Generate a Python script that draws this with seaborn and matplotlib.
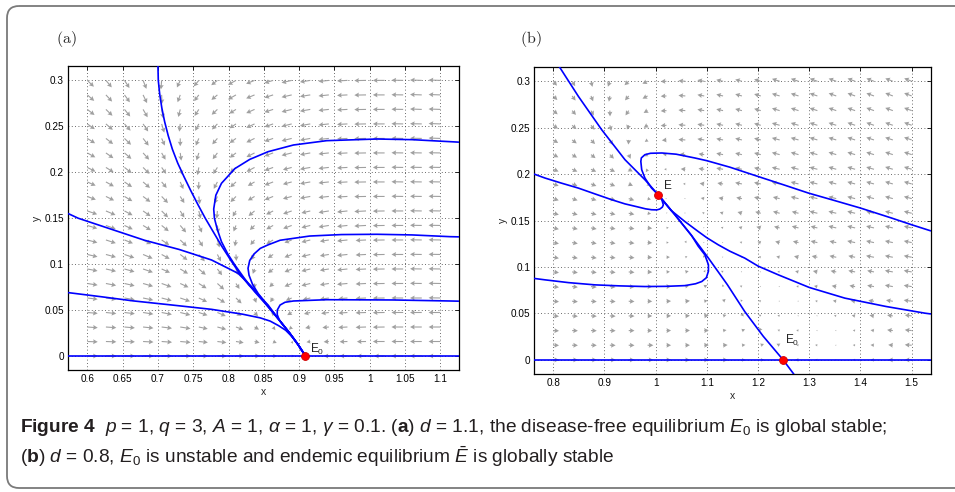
import numpy as np
import matplotlib
matplotlib.use("Agg")
import matplotlib.pyplot as plt
import seaborn as sns
from matplotlib.patches import FancyBboxPatch

# ---- data ----
xticks_a = [0.6, 0.65, 0.7, 0.75, 0.8, 0.85, 0.9, 0.95, 1.0, 1.05, 1.1]
xticks_b = [0.8, 0.9, 1.0, 1.1, 1.2, 1.3, 1.4, 1.5]
yticks = [0, 0.05, 0.1, 0.15, 0.2, 0.25, 0.3]

# quiver grid (20 x 20, as in the original direction field)
grid_x_a = np.linspace(0.6, 1.1, 20)
grid_x_b = np.linspace(0.8, 1.5, 20)
grid_y = np.linspace(0.0, 0.3, 20)

# arrow direction on screen (degrees, 180 = pointing left), top row (y=0.3) first
ang_a = [
    [-44, -50, -57, -68, -95, -115, -130, -142, -151, -158, -163, -167, -171, -174, -177, -179, 180, 179, 178, 178],
    [-41, -47, -54, -64, -88, -110, -127, -140, -150, -157, -162, -167, -171, -174, -177, -179, 180, 179, 178, 178],
    [-38, -44, -51, -60, -80, -104, -123, -137, -148, -156, -162, -166, -170, -174, -177, -179, 180, 179, 178, 178],
    [-35, -41, -48, -56, -73, -97, -118, -134, -146, -155, -161, -166, -170, -174, -177, -179, 180, 179, 179, 178],
    [-32, -38, -44, -52, -66, -90, -113, -131, -144, -154, -161, -166, -170, -174, -177, -179, 180, 179, 179, 178],
    [-29, -35, -41, -48, -60, -82, -107, -127, -142, -153, -160, -166, -170, -174, -177, -179, 180, 179, 179, 179],
    [-27, -32, -38, -45, -55, -75, -100, -123, -140, -152, -160, -165, -170, -174, -177, -179, 180, 179, 179, 179],
    [-24, -29, -34, -41, -50, -66, -92, -118, -137, -150, -159, -165, -170, -174, -177, -179, 180, 179, 179, 179],
    [-21, -26, -31, -37, -46, -58, -83, -112, -134, -149, -158, -165, -170, -174, -177, -179, 180, 179, 179, 179],
    [-19, -23, -28, -35, -45, -58, -76, -95, -120, -140, -153, -161, -167, -171, -174, -177, -179, 180, 179, 179],
    [-17, -20, -25, -31, -39, -50, -66, -82, -112, -136, -151, -160, -166, -171, -174, -177, -179, 180, 179, 179],
    [-15, -18, -22, -27, -34, -44, -58, -74, -100, -130, -149, -159, -166, -171, -174, -177, -179, 180, 179, 179],
    [-13, -15, -19, -23, -29, -38, -49, -63, -86, -122, -146, -158, -166, -171, -174, -177, -179, 180, 179, 179],
    [-11, -13, -16, -19, -24, -31, -40, -53, -70, -110, -142, -157, -166, -171, -174, -177, -179, 180, 179, 179],
    [-9, -11, -13, -16, -20, -25, -32, -42, -57, -92, -136, -157, -166, -171, -175, -177, -179, 180, 179, 179],
    [-7, -8, -10, -12, -15, -19, -25, -32, -44, -70, -125, -156, -167, -172, -175, -177, -179, 180, 180, 179],
    [-5, -6, -7, -9, -11, -14, -18, -23, -31, -48, -95, -150, -167, -173, -176, -178, -179, 180, 180, 180],
    [-4, -4, -5, -6, -7, -9, -12, -15, -20, -30, -55, -135, -168, -174, -177, -178, -179, 180, 180, 180],
    [-2, -2, -2, -3, -4, -5, -6, -7, -9, -13, -22, -60, -170, -176, -178, -179, 180, 180, 180, 180],
    [0, 0, 0, 0, 0, 0, 0, 0, 0, 0, 0, 0, 180, 180, 180, 180, 180, 180, 180, 180],
]
# arrow length class (0-9), same layout
len_a = [
    "77777666777888899999", "77777666777888899999", "77777666677888899999",
    "77777666677888899999", "77776666677888899999", "77776666677888899999",
    "77776666677788899999", "77776666667788899999", "77777666667788899999",
    "88777666566778899999", "88777766556778899999", "88777766556677889999",
    "88887776555677889999", "88887776545677889999", "88888777544677889999",
    "88888877644567789999", "88888877543456789999", "88888877643345789999",
    "88888877643234679999", "88888877643224678999",
]

ang_b = [
    [-50, -58, -75, -110, -137, -155, -178, 175, 170, 167, 165, 163, 162, 161, 160, 160, 159, 159, 159, 158],
    [-45, -53, -68, -100, -130, -152, -177, 175, 170, 167, 165, 164, 163, 162, 161, 160, 160, 160, 159, 159],
    [-40, -48, -60, -88, -124, -150, -176, 175, 170, 168, 166, 164, 163, 162, 162, 161, 161, 160, 160, 160],
    [-36, -42, -52, -75, -113, -148, -176, 175, 171, 168, 166, 165, 164, 163, 162, 162, 161, 161, 161, 160],
    [-32, -37, -45, -60, -95, -145, -175, 176, 171, 169, 167, 166, 165, 164, 163, 163, 162, 162, 162, 161],
    [-28, -32, -38, -45, -65, -150, 178, 176, 172, 169, 168, 166, 165, 164, 164, 163, 163, 163, 162, 162],
    [-23, -24, -25, -25, -29, -121, 178, 176, 172, 170, 168, 167, 166, 165, 165, 164, 164, 164, 163, 163],
    [-20, -21, -21, -22, -24, -42, 170, 177, 173, 171, 169, 168, 167, 166, 166, 165, 165, 165, 164, 164],
    [-18, -18, -17, -17, -17, -15, 157, 160, 170, 170, 169, 168, 167, 167, 166, 166, 166, 165, 165, 165],
    [-15, -15, -14, -13, -12, -8, 40, 150, 158, 162, 164, 165, 165, 166, 166, 166, 166, 166, 166, 166],
    [-13, -12, -11, -10, -9, -5, 10, 125, 155, 162, 164, 165, 166, 166, 167, 167, 167, 167, 167, 167],
    [-11, -10, -10, -9, -7, -4, 3, 60, 150, 160, 164, 165, 166, 167, 167, 168, 168, 168, 168, 168],
    [-10, -9, -8, -7, -6, -3, 3, 24, 120, 158, 163, 165, 166, 167, 168, 168, 168, 169, 169, 169],
    [-8, -8, -7, -6, -5, -3, 3, 13, 57, 150, 162, 165, 167, 168, 168, 169, 169, 169, 170, 170],
    [-7, -6, -6, -5, -4, -2, 2, 8, 25, 100, 158, 165, 167, 168, 169, 170, 170, 170, 170, 171],
    [-5, -5, -4, -4, -3, -2, 2, 5, 13, 42, 127, 162, 167, 168, 169, 170, 171, 171, 171, 172],
    [-4, -4, -3, -3, -2, -1, 1, 3, 7, 17, 67, 146, 165, 169, 170, 171, 172, 172, 172, 173],
    [-3, -2, -2, -2, -1, -1, 1, 2, 4, 8, 22, 116, 159, 168, 170, 172, 173, 173, 173, 174],
    [-1, -1, -1, -1, -1, 0, 0, 1, 2, 3, 6, 22, 155, 170, 172, 173, 174, 175, 175, 176],
    [0, 0, 0, 0, 0, 0, 0, 0, 0, 0, 0, 0, 0, 180, 180, 180, 180, 180, 180, 180],
]
len_b = [
    "55555556666677777777", "55555556666677777777", "55555456666677777777",
    "55554456666677777777", "55554346666677777777", "55554335566677777777",
    "55554324566677777777", "55554312456677777777", "55555311345667777777",
    "55555311234566777777", "55555421123456677777", "55555422112345667777",
    "55555432211234566777", "55555433221123456677", "55555443322112345677",
    "55555444332211234567", "55555444433221123456", "55555444433322112356",
    "55555544443332212346", "55555544443333212346",
]

# trajectories, panel (a)
traj_a = [
    ([0.573, 1.126], [0.0, 0.0]),
    ([0.700, 0.7005, 0.7025, 0.7055, 0.7095, 0.7145, 0.7205, 0.728, 0.737, 0.7465, 0.7565, 0.767, 0.7785, 0.790, 0.8025, 0.8155, 0.829, 0.843, 0.856, 0.872, 0.886, 0.898, 0.909],
     [0.316, 0.300, 0.285, 0.270, 0.255, 0.240, 0.225, 0.210, 0.195, 0.180, 0.165, 0.150, 0.135, 0.120, 0.105, 0.090, 0.077, 0.066, 0.0555, 0.039, 0.0255, 0.013, 0.0]),
    ([0.573, 0.587, 0.630, 0.681, 0.730, 0.776, 0.8135, 0.836, 0.856, 0.872, 0.886, 0.898, 0.909],
     [0.155, 0.150, 0.139, 0.126, 0.116, 0.1045, 0.090, 0.073, 0.0537, 0.039, 0.0255, 0.013, 0.0]),
    ([0.573, 0.620, 0.665, 0.720, 0.776, 0.820, 0.845, 0.859, 0.871, 0.881, 0.890, 0.900, 0.909],
     [0.069, 0.0645, 0.060, 0.0555, 0.0508, 0.0455, 0.0415, 0.038, 0.033, 0.028, 0.021, 0.0105, 0.0]),
    ([1.126, 1.114, 1.060, 1.010, 0.939, 0.892, 0.856, 0.830, 0.809, 0.790, 0.782, 0.779, 0.780, 0.784, 0.790, 0.799, 0.809, 0.822, 0.837, 0.856, 0.872, 0.886, 0.898, 0.909],
     [0.2328, 0.2333, 0.2355, 0.2362, 0.2344, 0.2297, 0.2224, 0.214, 0.204, 0.188, 0.175, 0.160, 0.150, 0.138, 0.1244, 0.111, 0.099, 0.085, 0.070, 0.0537, 0.039, 0.0255, 0.013, 0.0]),
    ([1.126, 1.114, 1.060, 1.010, 0.960, 0.915, 0.873, 0.856, 0.845, 0.836, 0.830, 0.8276, 0.829, 0.834, 0.842, 0.856, 0.872, 0.886, 0.898, 0.909],
     [0.1297, 0.1299, 0.1318, 0.1325, 0.1322, 0.1306, 0.126, 0.121, 0.1172, 0.111, 0.104, 0.0955, 0.088, 0.078, 0.068, 0.0545, 0.039, 0.0255, 0.013, 0.0]),
    ([1.126, 1.114, 1.033, 0.939, 0.892, 0.880, 0.873, 0.869, 0.869, 0.872, 0.879, 0.886, 0.898, 0.909],
     [0.0597, 0.0599, 0.061, 0.0613, 0.0599, 0.0585, 0.0555, 0.050, 0.045, 0.039, 0.032, 0.0255, 0.013, 0.0]),
]

# trajectories, panel (b)
traj_b = [
    ([0.763, 1.537], [0.0, 0.0]),
    ([0.8115, 0.849, 0.8945, 0.940, 0.979, 1.005, 1.0375, 1.070, 1.103, 1.140, 1.174, 1.210, 1.249, 1.270],
     [0.316, 0.2838, 0.2479, 0.2156, 0.194, 0.1778, 0.1563, 0.134, 0.1096, 0.081, 0.052, 0.0255, 0.0, -0.0155]),
    ([0.763, 0.784, 0.815, 0.849, 0.880, 0.914, 0.940, 0.966, 0.980, 0.992, 1.002, 1.008, 1.013, 1.015, 1.012, 1.005],
     [0.200, 0.1958, 0.1905, 0.185, 0.179, 0.1725, 0.168, 0.1646, 0.1627, 0.1617, 0.1615, 0.1624, 0.1645, 0.167, 0.1725, 0.1778]),
    ([1.537, 1.500, 1.461, 1.400, 1.350, 1.298, 1.250, 1.200, 1.145, 1.100, 1.0767, 1.040, 1.012, 0.990, 0.979, 0.972, 0.971, 0.9727, 0.979, 0.992, 1.005],
     [0.139, 0.1455, 0.1527, 0.1635, 0.1715, 0.1797, 0.1885, 0.1975, 0.2075, 0.2145, 0.2174, 0.2215, 0.2228, 0.2225, 0.221, 0.2175, 0.2137, 0.2048, 0.1958, 0.185, 0.1778]),
    ([0.763, 0.784, 0.830, 0.8815, 0.930, 0.979, 1.020, 1.057, 1.078, 1.090, 1.099, 1.103, 1.103, 1.096, 1.083, 1.070, 1.0375, 1.005],
     [0.0877, 0.0862, 0.0832, 0.0808, 0.0797, 0.079, 0.0792, 0.080, 0.082, 0.0844, 0.0885, 0.0955, 0.1024, 0.1132, 0.1225, 0.134, 0.1563, 0.1778]),
    ([1.537, 1.526, 1.450, 1.3695, 1.300, 1.2395, 1.200, 1.174, 1.145, 1.122, 1.100, 1.083, 1.057, 1.030, 1.005],
     [0.0495, 0.0503, 0.0575, 0.0665, 0.078, 0.0916, 0.101, 0.1096, 0.117, 0.124, 0.1315, 0.1383, 0.149, 0.161, 0.1778]),
]

eq_a_x, eq_a_y = [0.909], [0.0]
eq_b_x, eq_b_y = [1.005, 1.249], [0.178, 0.0]

caption_1 = (r"$\mathbf{Figure\ 4}$  $p$ = 1, $q$ = 3, $A$ = 1, $\alpha$ = 1, $\gamma$ = 0.1. "
             r"($\mathbf{a}$) $d$ = 1.1, the disease-free equilibrium $E_0$ is global stable;")
caption_2 = r"($\mathbf{b}$) $d$ = 0.8, $E_0$ is unstable and endemic equilibrium $\bar{E}$ is globally stable"

# ---- style ----
sns.set_theme(style="white")
plt.rcParams["font.family"] = ["Liberation Sans", "DejaVu Sans"]
plt.rcParams["mathtext.rm"] = "Liberation Sans"
plt.rcParams["mathtext.it"] = "Liberation Sans:italic"
plt.rcParams["mathtext.bf"] = "Liberation Sans:bold"
plt.rcParams["mathtext.sf"] = "Liberation Sans"

fig = plt.figure(figsize=(9.55, 4.92), dpi=100)

# frame + caption drawn in pixel coordinates
bg = fig.add_axes([0, 0, 1, 1], zorder=-5)
bg.set_xlim(0, 955)
bg.set_ylim(492, 0)
bg.axis("off")
bg.add_patch(FancyBboxPatch((7, 6), 1000, 482, boxstyle="round,pad=0,rounding_size=12",
                            fc="none", ec="#7a7a7a", lw=1.3))
bg.text(20, 428, caption_1, fontsize=13.8, va="center", ha="left", color="#231f20",
        math_fontfamily="custom")
bg.text(20, 457, caption_2, fontsize=13.8, va="center", ha="left", color="#231f20",
        math_fontfamily="custom")
bg.text(66, 39, r"$\mathrm{(a)}$", fontsize=11.5, ha="center", va="center", math_fontfamily="cm")
bg.text(531, 39, r"$\mathrm{(b)}$", fontsize=11.5, ha="center", va="center", math_fontfamily="cm")


def field(ax, gx, angles, lengths, px):
    X, Y = np.meshgrid(gx, grid_y[::-1])
    th = np.deg2rad(np.array(angles, dtype=float))
    L = np.array([[int(c) for c in row] for row in lengths], dtype=float) * px
    ax.quiver(X, Y, L * np.cos(th), L * np.sin(th), angles="uv", scale_units="dots", scale=1,
              units="dots", width=1.1, headwidth=4.5, headlength=4.2, headaxislength=3.7,
              color="#a0a0a0", zorder=1)


def panel(ax, gx, angles, lengths, px, trajs, ex, ey, xticks, xlim):
    field(ax, gx, angles, lengths, px)
    for tx, ty in trajs:
        sns.lineplot(x=tx, y=ty, ax=ax, sort=False, estimator=None, color="#0000ff",
                     lw=1.2, zorder=3)
    sns.scatterplot(x=ex, y=ey, ax=ax, color="red", s=32, edgecolor="#cc0000",
                    linewidth=0.6, zorder=4)
    ax.set_xlim(*xlim)
    ax.set_ylim(-0.0152, 0.3157)
    ax.set_xticks(xticks)
    ax.set_xticklabels([f"{v:g}" for v in xticks])
    ax.set_yticks(yticks)
    ax.set_yticklabels([f"{v:g}" for v in yticks])
    ax.grid(True, linestyle=(0, (1, 3)), color="#3a3a3a", lw=0.6)
    ax.tick_params(direction="in", top=True, right=True, length=3, width=0.6,
                   labelsize=7.2, pad=3, colors="black")
    for s in ax.spines.values():
        s.set_color("black")
        s.set_linewidth(0.9)
    ax.set_xlabel("x", fontsize=7.5, labelpad=2)
    ax.set_ylabel("y", fontsize=7.5, labelpad=2)


ax_a = fig.add_axes([0.0715, 0.2480, 0.4088, 0.6179])
panel(ax_a, grid_x_a, ang_a, len_a, 1.3, traj_a, eq_a_x, eq_a_y, xticks_a, (0.573, 1.126))
ax_a.text(0.9155, 0.0036, r"E$_0$", fontsize=8.5, math_fontfamily="custom", zorder=5)

ax_b = fig.add_axes([0.5595, 0.2398, 0.4150, 0.6246])
panel(ax_b, grid_x_b, ang_b, len_b, 1.15, traj_b, eq_b_x, eq_b_y, xticks_b, (0.763, 1.537))
ax_b.text(1.017, 0.1835, "E", fontsize=8.5, zorder=5)
ax_b.text(1.2525, 0.017, r"E$_0$", fontsize=8.5, math_fontfamily="custom", zorder=5)

fig.savefig("out.png", dpi=100)
